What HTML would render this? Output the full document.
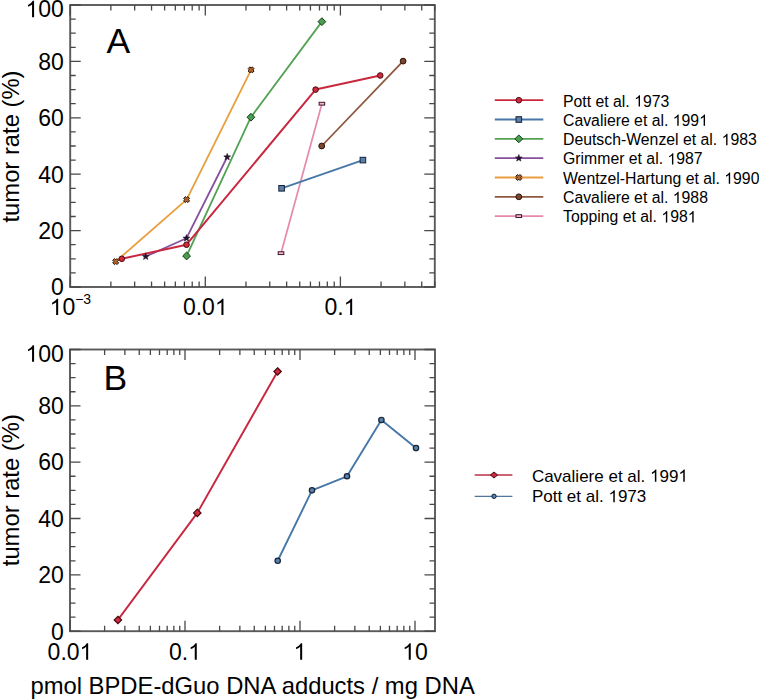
<!DOCTYPE html>
<html><head><meta charset="utf-8"><style>
html,body{margin:0;padding:0;background:#fff;}
body{width:759px;height:699px;overflow:hidden;}
svg{display:block;}
text{font-family:"Liberation Sans",sans-serif;}
.h1{fill-opacity:0;}
</style></head><body>
<svg width="759" height="699" viewBox="0 0 759 699" font-family="Liberation Sans, sans-serif" fill="#000">
<rect width="759" height="699" fill="#fff"/>
<rect x="70.20" y="5.00" width="364.60" height="282.00" fill="none" stroke="#5a5a5a" stroke-width="1.9"/>
<path d="M70.20,287.00v-10.5M70.20,5.00v10.5M110.87,287.00v-5.5M110.87,5.00v5.5M134.66,287.00v-5.5M134.66,5.00v5.5M151.54,287.00v-5.5M151.54,5.00v5.5M164.63,287.00v-5.5M164.63,5.00v5.5M175.33,287.00v-5.5M175.33,5.00v5.5M184.37,287.00v-5.5M184.37,5.00v5.5M192.21,287.00v-5.5M192.21,5.00v5.5M199.12,287.00v-5.5M199.12,5.00v5.5M205.30,287.00v-10.5M205.30,5.00v10.5M245.97,287.00v-5.5M245.97,5.00v5.5M269.76,287.00v-5.5M269.76,5.00v5.5M286.64,287.00v-5.5M286.64,5.00v5.5M299.73,287.00v-5.5M299.73,5.00v5.5M310.43,287.00v-5.5M310.43,5.00v5.5M319.47,287.00v-5.5M319.47,5.00v5.5M327.31,287.00v-5.5M327.31,5.00v5.5M334.22,287.00v-5.5M334.22,5.00v5.5M340.40,287.00v-10.5M340.40,5.00v10.5M381.07,287.00v-5.5M381.07,5.00v5.5M404.86,287.00v-5.5M404.86,5.00v5.5M421.74,287.00v-5.5M421.74,5.00v5.5M434.83,287.00v-5.5M434.83,5.00v5.5M70.20,287.00h10.5M434.80,287.00h-10.5M70.20,272.90h5.5M434.80,272.90h-5.5M70.20,258.80h5.5M434.80,258.80h-5.5M70.20,244.70h5.5M434.80,244.70h-5.5M70.20,230.60h10.5M434.80,230.60h-10.5M70.20,216.50h5.5M434.80,216.50h-5.5M70.20,202.40h5.5M434.80,202.40h-5.5M70.20,188.30h5.5M434.80,188.30h-5.5M70.20,174.20h10.5M434.80,174.20h-10.5M70.20,160.10h5.5M434.80,160.10h-5.5M70.20,146.00h5.5M434.80,146.00h-5.5M70.20,131.90h5.5M434.80,131.90h-5.5M70.20,117.80h10.5M434.80,117.80h-10.5M70.20,103.70h5.5M434.80,103.70h-5.5M70.20,89.60h5.5M434.80,89.60h-5.5M70.20,75.50h5.5M434.80,75.50h-5.5M70.20,61.40h10.5M434.80,61.40h-10.5M70.20,47.30h5.5M434.80,47.30h-5.5M70.20,33.20h5.5M434.80,33.20h-5.5M70.20,19.10h5.5M434.80,19.10h-5.5M70.20,5.00h10.5M434.80,5.00h-10.5" stroke="#484848" stroke-width="1.3" fill="none"/>
<polyline points="281.00,253.16 321.90,103.70" fill="none" stroke="#e58aae" stroke-width="1.7" stroke-linejoin="round"/>
<polyline points="321.70,146.00 403.10,61.12" fill="none" stroke="#8e573f" stroke-width="1.8" stroke-linejoin="round"/>
<polyline points="115.70,261.62 186.60,199.58 251.10,69.86" fill="none" stroke="#e99e3e" stroke-width="1.8" stroke-linejoin="round"/>
<polyline points="145.70,256.54 186.50,238.21 227.20,157.00" fill="none" stroke="#87509c" stroke-width="1.8" stroke-linejoin="round"/>
<polyline points="186.60,255.98 250.90,117.24 321.90,21.64" fill="none" stroke="#53a254" stroke-width="1.8" stroke-linejoin="round"/>
<polyline points="281.60,188.30 362.90,160.10" fill="none" stroke="#4677a6" stroke-width="1.8" stroke-linejoin="round"/>
<polyline points="121.80,258.80 186.50,244.70 315.60,89.60 380.20,75.50" fill="none" stroke="#c8283f" stroke-width="2.0" stroke-linejoin="round"/>
<rect x="278.20" y="251.76" width="5.6" height="2.8" fill="#f0b8d0" stroke="#3e1428" stroke-width="1"/>
<rect x="319.10" y="102.30" width="5.6" height="2.8" fill="#f0b8d0" stroke="#3e1428" stroke-width="1"/>
<circle cx="321.70" cy="146.00" r="2.9" fill="#7a4630" stroke="#2a1208" stroke-width="1"/>
<circle cx="403.10" cy="61.12" r="2.9" fill="#7a4630" stroke="#2a1208" stroke-width="1"/>
<polygon points="115.70,259.82 116.90,258.62 118.70,260.42 117.50,261.62 118.70,262.82 116.90,264.62 115.70,263.42 114.50,264.62 112.70,262.82 113.90,261.62 112.70,260.42 114.50,258.62" fill="#b0662c" stroke="#241004" stroke-width="1.0" stroke-linejoin="round"/>
<polygon points="186.60,197.78 187.80,196.58 189.60,198.38 188.40,199.58 189.60,200.78 187.80,202.58 186.60,201.38 185.40,202.58 183.60,200.78 184.80,199.58 183.60,198.38 185.40,196.58" fill="#b0662c" stroke="#241004" stroke-width="1.0" stroke-linejoin="round"/>
<polygon points="251.10,68.06 252.30,66.86 254.10,68.66 252.90,69.86 254.10,71.06 252.30,72.86 251.10,71.66 249.90,72.86 248.10,71.06 249.30,69.86 248.10,68.66 249.90,66.86" fill="#b0662c" stroke="#241004" stroke-width="1.0" stroke-linejoin="round"/>
<polygon points="145.70,252.94 146.59,255.32 149.12,255.43 147.14,257.01 147.82,259.46 145.70,258.06 143.58,259.46 144.26,257.01 142.28,255.43 144.81,255.32" fill="#24142c" stroke="#24142c" stroke-width="0.6"/>
<polygon points="186.50,234.61 187.39,236.99 189.92,237.10 187.94,238.68 188.62,241.13 186.50,239.73 184.38,241.13 185.06,238.68 183.08,237.10 185.61,236.99" fill="#24142c" stroke="#24142c" stroke-width="0.6"/>
<polygon points="227.20,153.40 228.09,155.77 230.62,155.89 228.64,157.47 229.32,159.91 227.20,158.51 225.08,159.91 225.76,157.47 223.78,155.89 226.31,155.77" fill="#24142c" stroke="#24142c" stroke-width="0.6"/>
<path d="M186.60,252.08L190.50,255.98L186.60,259.88L182.70,255.98Z" fill="#4a9e50" stroke="#123c14" stroke-width="1"/>
<path d="M250.90,113.34L254.80,117.24L250.90,121.14L247.00,117.24Z" fill="#4a9e50" stroke="#123c14" stroke-width="1"/>
<path d="M321.90,17.74L325.80,21.64L321.90,25.54L318.00,21.64Z" fill="#4a9e50" stroke="#123c14" stroke-width="1"/>
<rect x="278.80" y="185.50" width="5.6" height="5.6" fill="#5b7fa6" stroke="#14233a" stroke-width="1"/>
<rect x="360.10" y="157.30" width="5.6" height="5.6" fill="#5b7fa6" stroke="#14233a" stroke-width="1"/>
<circle cx="121.80" cy="258.80" r="2.8" fill="#d02a3e" stroke="#4a0810" stroke-width="1"/>
<circle cx="186.50" cy="244.70" r="2.8" fill="#d02a3e" stroke="#4a0810" stroke-width="1"/>
<circle cx="315.60" cy="89.60" r="2.8" fill="#d02a3e" stroke="#4a0810" stroke-width="1"/>
<circle cx="380.20" cy="75.50" r="2.8" fill="#d02a3e" stroke="#4a0810" stroke-width="1"/>
<rect x="70.00" y="349.50" width="365.00" height="281.70" fill="none" stroke="#5a5a5a" stroke-width="1.9"/>
<path d="M70.00,631.20v-10.5M70.00,349.50v10.5M104.62,631.20v-5.5M104.62,349.50v5.5M124.87,631.20v-5.5M124.87,349.50v5.5M139.24,631.20v-5.5M139.24,349.50v5.5M150.38,631.20v-5.5M150.38,349.50v5.5M159.49,631.20v-5.5M159.49,349.50v5.5M167.19,631.20v-5.5M167.19,349.50v5.5M173.86,631.20v-5.5M173.86,349.50v5.5M179.74,631.20v-5.5M179.74,349.50v5.5M185.00,631.20v-10.5M185.00,349.50v10.5M219.62,631.20v-5.5M219.62,349.50v5.5M239.87,631.20v-5.5M239.87,349.50v5.5M254.24,631.20v-5.5M254.24,349.50v5.5M265.38,631.20v-5.5M265.38,349.50v5.5M274.49,631.20v-5.5M274.49,349.50v5.5M282.19,631.20v-5.5M282.19,349.50v5.5M288.86,631.20v-5.5M288.86,349.50v5.5M294.74,631.20v-5.5M294.74,349.50v5.5M300.00,631.20v-10.5M300.00,349.50v10.5M334.62,631.20v-5.5M334.62,349.50v5.5M354.87,631.20v-5.5M354.87,349.50v5.5M369.24,631.20v-5.5M369.24,349.50v5.5M380.38,631.20v-5.5M380.38,349.50v5.5M389.49,631.20v-5.5M389.49,349.50v5.5M397.19,631.20v-5.5M397.19,349.50v5.5M403.86,631.20v-5.5M403.86,349.50v5.5M409.74,631.20v-5.5M409.74,349.50v5.5M415.00,631.20v-10.5M415.00,349.50v10.5M70.00,631.20h10.5M435.00,631.20h-10.5M70.00,617.12h5.5M435.00,617.12h-5.5M70.00,603.03h5.5M435.00,603.03h-5.5M70.00,588.95h5.5M435.00,588.95h-5.5M70.00,574.86h10.5M435.00,574.86h-10.5M70.00,560.78h5.5M435.00,560.78h-5.5M70.00,546.69h5.5M435.00,546.69h-5.5M70.00,532.61h5.5M435.00,532.61h-5.5M70.00,518.52h10.5M435.00,518.52h-10.5M70.00,504.44h5.5M435.00,504.44h-5.5M70.00,490.35h5.5M435.00,490.35h-5.5M70.00,476.26h5.5M435.00,476.26h-5.5M70.00,462.18h10.5M435.00,462.18h-10.5M70.00,448.10h5.5M435.00,448.10h-5.5M70.00,434.01h5.5M435.00,434.01h-5.5M70.00,419.93h5.5M435.00,419.93h-5.5M70.00,405.84h10.5M435.00,405.84h-10.5M70.00,391.75h5.5M435.00,391.75h-5.5M70.00,377.67h5.5M435.00,377.67h-5.5M70.00,363.59h5.5M435.00,363.59h-5.5M70.00,349.50h10.5M435.00,349.50h-10.5" stroke="#484848" stroke-width="1.3" fill="none"/>
<polyline points="277.70,560.78 312.00,490.35 347.00,476.26 381.40,419.93 416.00,448.10" fill="none" stroke="#4677a6" stroke-width="1.9" stroke-linejoin="round"/>
<polyline points="117.90,619.93 197.30,512.89 277.60,371.47" fill="none" stroke="#c8283f" stroke-width="1.9" stroke-linejoin="round"/>
<path d="M117.90,616.23L121.60,619.93L117.90,623.63L114.20,619.93Z" fill="#d02a3e" stroke="#4a0810" stroke-width="1.2"/>
<path d="M197.30,509.19L201.00,512.89L197.30,516.59L193.60,512.89Z" fill="#d02a3e" stroke="#4a0810" stroke-width="1.2"/>
<path d="M277.60,367.77L281.30,371.47L277.60,375.17L273.90,371.47Z" fill="#d02a3e" stroke="#4a0810" stroke-width="1.2"/>
<circle cx="277.70" cy="560.78" r="2.7" fill="#5b7fa6" stroke="#14233a" stroke-width="1.2"/>
<circle cx="312.00" cy="490.35" r="2.7" fill="#5b7fa6" stroke="#14233a" stroke-width="1.2"/>
<circle cx="347.00" cy="476.26" r="2.7" fill="#5b7fa6" stroke="#14233a" stroke-width="1.2"/>
<circle cx="381.40" cy="419.93" r="2.7" fill="#5b7fa6" stroke="#14233a" stroke-width="1.2"/>
<circle cx="416.00" cy="448.10" r="2.7" fill="#5b7fa6" stroke="#14233a" stroke-width="1.2"/>
<text x="63.90" y="295.30" font-size="23" text-anchor="end" >0</text>
<text x="63.90" y="639.50" font-size="23" text-anchor="end" >0</text>
<text x="63.90" y="238.90" font-size="23" text-anchor="end" >20</text>
<text x="63.90" y="583.16" font-size="23" text-anchor="end" >20</text>
<text x="63.90" y="182.50" font-size="23" text-anchor="end" >40</text>
<text x="63.90" y="526.82" font-size="23" text-anchor="end" >40</text>
<text x="63.90" y="126.10" font-size="23" text-anchor="end" >60</text>
<text x="63.90" y="470.48" font-size="23" text-anchor="end" >60</text>
<text x="63.90" y="69.70" font-size="23" text-anchor="end" >80</text>
<text x="63.90" y="414.14" font-size="23" text-anchor="end" >80</text>
<text x="63.90" y="17.30" font-size="23" text-anchor="end" ><tspan class="h1">1</tspan>00</text>
<text x="63.90" y="361.80" font-size="23" text-anchor="end" ><tspan class="h1">1</tspan>00</text>
<text x="49.6" y="315.1" font-size="23"><tspan class="h1">1</tspan>0<tspan font-size="14" dy="-11.2">−3</tspan></text>
<text x="205.30" y="315.10" font-size="23" text-anchor="middle" >0.0<tspan class="h1">1</tspan></text>
<text x="340.40" y="315.10" font-size="23" text-anchor="middle" >0.<tspan class="h1">1</tspan></text>
<text x="70.00" y="659.70" font-size="23" text-anchor="middle" >0.0<tspan class="h1">1</tspan></text>
<text x="185.00" y="659.70" font-size="23" text-anchor="middle" >0.<tspan class="h1">1</tspan></text>
<text x="300.00" y="659.70" font-size="23" text-anchor="middle" ><tspan class="h1">1</tspan></text>
<text x="415.00" y="659.70" font-size="23" text-anchor="middle" ><tspan class="h1">1</tspan>0</text>
<text x="106.60" y="53.30" font-size="35.5" text-anchor="start" >A</text>
<text x="103.60" y="390.30" font-size="35.5" text-anchor="start" >B</text>
<text transform="translate(19.2,146.5) rotate(-90)" font-size="23.8" text-anchor="middle">tumor rate (%)</text>
<text transform="translate(19.2,490.2) rotate(-90)" font-size="23.8" text-anchor="middle">tumor rate (%)</text>
<text x="252.60" y="693.80" font-size="23.8" text-anchor="middle" >pmol BPDE-dGuo DNA adducts / mg DNA</text>
<line x1="494.8" y1="100.20" x2="543.3" y2="100.20" stroke="#c8283f" stroke-width="1.8"/>
<circle cx="518.80" cy="100.20" r="2.8" fill="#d02a3e" stroke="#4a0810" stroke-width="1"/>
<text x="563.00" y="106.50" font-size="15.8" text-anchor="start" >Pott et al. <tspan class="h1">1</tspan>973</text>
<line x1="494.8" y1="119.52" x2="543.3" y2="119.52" stroke="#4677a6" stroke-width="1.8"/>
<rect x="516.00" y="116.72" width="5.6" height="5.6" fill="#5b7fa6" stroke="#14233a" stroke-width="1"/>
<text x="563.00" y="125.82" font-size="15.8" text-anchor="start" >Cavaliere et al. <tspan class="h1">1</tspan>99<tspan class="h1">1</tspan></text>
<line x1="494.8" y1="138.84" x2="543.3" y2="138.84" stroke="#53a254" stroke-width="1.8"/>
<path d="M518.80,134.94L522.70,138.84L518.80,142.74L514.90,138.84Z" fill="#4a9e50" stroke="#123c14" stroke-width="1"/>
<text x="563.00" y="145.14" font-size="15.8" text-anchor="start" >Deutsch-Wenzel et al. <tspan class="h1">1</tspan>983</text>
<line x1="494.8" y1="158.16" x2="543.3" y2="158.16" stroke="#87509c" stroke-width="1.8"/>
<polygon points="518.80,154.56 519.69,156.94 522.22,157.05 520.24,158.63 520.92,161.07 518.80,159.67 516.68,161.07 517.36,158.63 515.38,157.05 517.91,156.94" fill="#24142c" stroke="#24142c" stroke-width="0.6"/>
<text x="563.00" y="164.46" font-size="15.8" text-anchor="start" >Grimmer et al. <tspan class="h1">1</tspan>987</text>
<line x1="494.8" y1="177.48" x2="543.3" y2="177.48" stroke="#e99e3e" stroke-width="1.8"/>
<polygon points="518.80,175.68 520.00,174.48 521.80,176.28 520.60,177.48 521.80,178.68 520.00,180.48 518.80,179.28 517.60,180.48 515.80,178.68 517.00,177.48 515.80,176.28 517.60,174.48" fill="#b0662c" stroke="#241004" stroke-width="1.0" stroke-linejoin="round"/>
<text x="563.00" y="183.78" font-size="15.8" text-anchor="start" >Wentzel-Hartung et al. <tspan class="h1">1</tspan>990</text>
<line x1="494.8" y1="196.80" x2="543.3" y2="196.80" stroke="#8e573f" stroke-width="1.8"/>
<circle cx="518.80" cy="196.80" r="2.9" fill="#7a4630" stroke="#2a1208" stroke-width="1"/>
<text x="563.00" y="203.10" font-size="15.8" text-anchor="start" >Cavaliere et al. <tspan class="h1">1</tspan>988</text>
<line x1="494.8" y1="216.12" x2="543.3" y2="216.12" stroke="#e58aae" stroke-width="1.7"/>
<rect x="516.00" y="214.72" width="5.6" height="2.8" fill="#f0b8d0" stroke="#3e1428" stroke-width="1"/>
<text x="563.00" y="222.42" font-size="15.8" text-anchor="start" >Topping et al. <tspan class="h1">1</tspan>98<tspan class="h1">1</tspan></text>
<line x1="474.7" y1="475.00" x2="512.4" y2="475.00" stroke="#bb3048" stroke-width="1.3"/>
<path d="M494.00,472.00L497.60,475.00L494.00,478.00L490.40,475.00Z" fill="#c42a40" stroke="#4a0810" stroke-width="1"/>
<text x="531.90" y="481.70" font-size="17" text-anchor="start" >Cavaliere et al. <tspan class="h1">1</tspan>99<tspan class="h1">1</tspan></text>
<line x1="474.7" y1="496.30" x2="512.4" y2="496.30" stroke="#4c789f" stroke-width="1.3"/>
<circle cx="494.00" cy="496.30" r="2.2" fill="#5b7fa6" stroke="#14233a" stroke-width="1"/>
<text x="531.90" y="502.30" font-size="17" text-anchor="start" >Pott et al. <tspan class="h1">1</tspan>973</text>
<g fill="#000"><path transform="translate(25.51,17.30) scale(0.011230,-0.011230)" d="M763,0L583,0L583,1147Q518,1085 412,1023Q307,961 223,929L223,1103Q374,1174 487,1274Q597,1372 647,1466L763,1466Z"/><path transform="translate(25.51,361.80) scale(0.011230,-0.011230)" d="M763,0L583,0L583,1147Q518,1085 412,1023Q307,961 223,929L223,1103Q374,1174 487,1274Q597,1372 647,1466L763,1466Z"/><path transform="translate(49.60,315.10) scale(0.011230,-0.011230)" d="M763,0L583,0L583,1147Q518,1085 412,1023Q307,961 223,929L223,1103Q374,1174 487,1274Q597,1372 647,1466L763,1466Z"/><path transform="translate(214.89,315.10) scale(0.011230,-0.011230)" d="M763,0L583,0L583,1147Q518,1085 412,1023Q307,961 223,929L223,1103Q374,1174 487,1274Q597,1372 647,1466L763,1466Z"/><path transform="translate(343.60,315.10) scale(0.011230,-0.011230)" d="M763,0L583,0L583,1147Q518,1085 412,1023Q307,961 223,929L223,1103Q374,1174 487,1274Q597,1372 647,1466L763,1466Z"/><path transform="translate(79.59,659.70) scale(0.011230,-0.011230)" d="M763,0L583,0L583,1147Q518,1085 412,1023Q307,961 223,929L223,1103Q374,1174 487,1274Q597,1372 647,1466L763,1466Z"/><path transform="translate(188.20,659.70) scale(0.011230,-0.011230)" d="M763,0L583,0L583,1147Q518,1085 412,1023Q307,961 223,929L223,1103Q374,1174 487,1274Q597,1372 647,1466L763,1466Z"/><path transform="translate(293.60,659.70) scale(0.011230,-0.011230)" d="M763,0L583,0L583,1147Q518,1085 412,1023Q307,961 223,929L223,1103Q374,1174 487,1274Q597,1372 647,1466L763,1466Z"/><path transform="translate(402.20,659.70) scale(0.011230,-0.011230)" d="M763,0L583,0L583,1147Q518,1085 412,1023Q307,961 223,929L223,1103Q374,1174 487,1274Q597,1372 647,1466L763,1466Z"/><path transform="translate(634.12,106.50) scale(0.007715,-0.007715)" d="M763,0L583,0L583,1147Q518,1085 412,1023Q307,961 223,929L223,1103Q374,1174 487,1274Q597,1372 647,1466L763,1466Z"/><path transform="translate(672.77,125.82) scale(0.007715,-0.007715)" d="M763,0L583,0L583,1147Q518,1085 412,1023Q307,961 223,929L223,1103Q374,1174 487,1274Q597,1372 647,1466L763,1466Z"/><path transform="translate(699.14,125.82) scale(0.007715,-0.007715)" d="M763,0L583,0L583,1147Q518,1085 412,1023Q307,961 223,929L223,1103Q374,1174 487,1274Q597,1372 647,1466L763,1466Z"/><path transform="translate(721.62,145.14) scale(0.007715,-0.007715)" d="M763,0L583,0L583,1147Q518,1085 412,1023Q307,961 223,929L223,1103Q374,1174 487,1274Q597,1372 647,1466L763,1466Z"/><path transform="translate(667.45,164.46) scale(0.007715,-0.007715)" d="M763,0L583,0L583,1147Q518,1085 412,1023Q307,961 223,929L223,1103Q374,1174 487,1274Q597,1372 647,1466L763,1466Z"/><path transform="translate(724.27,183.78) scale(0.007715,-0.007715)" d="M763,0L583,0L583,1147Q518,1085 412,1023Q307,961 223,929L223,1103Q374,1174 487,1274Q597,1372 647,1466L763,1466Z"/><path transform="translate(672.77,203.10) scale(0.007715,-0.007715)" d="M763,0L583,0L583,1147Q518,1085 412,1023Q307,961 223,929L223,1103Q374,1174 487,1274Q597,1372 647,1466L763,1466Z"/><path transform="translate(661.38,222.42) scale(0.007715,-0.007715)" d="M763,0L583,0L583,1147Q518,1085 412,1023Q307,961 223,929L223,1103Q374,1174 487,1274Q597,1372 647,1466L763,1466Z"/><path transform="translate(687.75,222.42) scale(0.007715,-0.007715)" d="M763,0L583,0L583,1147Q518,1085 412,1023Q307,961 223,929L223,1103Q374,1174 487,1274Q597,1372 647,1466L763,1466Z"/><path transform="translate(650.03,481.70) scale(0.008301,-0.008301)" d="M763,0L583,0L583,1147Q518,1085 412,1023Q307,961 223,929L223,1103Q374,1174 487,1274Q597,1372 647,1466L763,1466Z"/><path transform="translate(678.42,481.70) scale(0.008301,-0.008301)" d="M763,0L583,0L583,1147Q518,1085 412,1023Q307,961 223,929L223,1103Q374,1174 487,1274Q597,1372 647,1466L763,1466Z"/><path transform="translate(608.45,502.30) scale(0.008301,-0.008301)" d="M763,0L583,0L583,1147Q518,1085 412,1023Q307,961 223,929L223,1103Q374,1174 487,1274Q597,1372 647,1466L763,1466Z"/></g>
</svg>
</body></html>
